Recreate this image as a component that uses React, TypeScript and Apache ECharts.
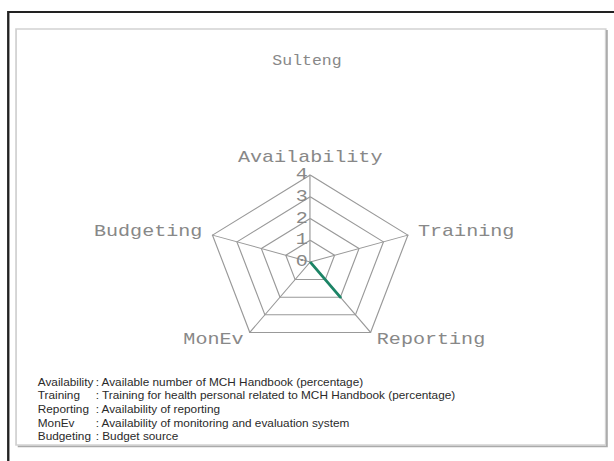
import React, { useEffect, useRef } from "react";
import * as echarts from "echarts";

const chartTitle = "Sulteng";
const indicatorNames = ["Availability", "Training", "Reporting", "MonEv", "Budgeting"];
const seriesValues = [0, 0, 2, 0, 0];
const axisMax = 4;
const tickLabels = ["0", "1", "2", "3", "4"];
const legendNames = ["Availability", "Training", "Reporting", "MonEv", "Budgeting"];
const legendDescriptions = [
  "Available number of MCH Handbook (percentage)",
  "Training for health personal related to MCH Handbook (percentage)",
  "Availability of reporting",
  "Availability of monitoring and evaluation system",
  "Budget source",
];

const W = 520;
const H = 461;
const SCALE_X = 614 / W;
const MONO = "'Liberation Mono', 'DejaVu Sans Mono', monospace";
const SANS = "'Liberation Sans', Arial, sans-serif";
const CENTER: [number, number] = [262.7, 262];
const RADIUS = 87;

export default function App() {
  const ref = useRef<HTMLDivElement>(null);
  useEffect(() => {
    document.body.style.margin = "0";
    if (!ref.current) return;
    const chart = echarts.init(ref.current, null, { renderer: "svg" });
    // ECharts radar runs counter-clockwise; the reference runs clockwise,
    // so keep the first axis on top and reverse the rest.
    const order = [0, ...indicatorNames.map((_, i) => i).slice(1).reverse()];
    const legendGraphics: any[] = [];
    legendNames.forEach((n, i) => {
      const y = 382 + i * 13.7;
      legendGraphics.push({
        type: "text",
        x: 32,
        y,
        style: { text: n, font: `10px ${SANS}`, fill: "#2a2a2a", textVerticalAlign: "middle" },
      });
      legendGraphics.push({
        type: "text",
        x: 81,
        y,
        style: { text: ": " + legendDescriptions[i], font: `10px ${SANS}`, fill: "#2a2a2a", textVerticalAlign: "middle" },
      });
    });
    chart.setOption({
      animation: false,
      backgroundColor: "#fff",
      title: {
        text: chartTitle,
        left: "center",
        top: 49,
        textStyle: { fontFamily: MONO, fontSize: 14, fontWeight: "normal", color: "#888" },
      },
      radar: {
        center: CENTER,
        radius: RADIUS,
        startAngle: 90,
        splitNumber: 4,
        shape: "polygon",
        nameGap: 9,
        indicator: order.map((i) => ({ name: indicatorNames[i], min: 0, max: axisMax })),
        axisName: { color: "#888", fontFamily: MONO, fontSize: 17 },
        axisLine: { lineStyle: { color: "#999", width: 1 } },
        splitLine: { lineStyle: { color: "#999", width: 1 } },
        splitArea: { show: false },
        axisTick: { show: false },
        axisLabel: { show: false },
      },
      polar: { center: CENTER, radius: RADIUS },
      angleAxis: { type: "value", min: 0, max: 360, startAngle: 90, show: false },
      radiusAxis: {
        type: "category",
        data: tickLabels,
        boundaryGap: false,
        axisLine: { show: false },
        axisTick: { show: false },
        splitLine: { show: false },
        axisLabel: { color: "#888", fontFamily: MONO, fontSize: 17, margin: 2, padding: [5, 0, 0, 0] },
      },
      series: [
        {
          type: "radar",
          symbol: "none",
          lineStyle: { color: "#1c8466", width: 2.5 },
          data: [{ value: order.map((i) => seriesValues[i]), name: chartTitle }],
        },
      ],
      graphic: [
        {
          type: "rect",
          shape: { x: 7, y: 12, width: 560, height: 480 },
          style: { fill: "none", stroke: "#222", lineWidth: 2 },
        },
        {
          type: "rect",
          shape: { x: 13.6, y: 29, width: 499.4, height: 416 },
          style: { fill: "none", stroke: "#d2d2d2", lineWidth: 1.5 },
        },
        {
          type: "polyline",
          shape: { points: [[514, 30], [514, 446.5], [15, 446.5]] },
          style: { fill: "none", stroke: "#aaa", lineWidth: 1.5 },
        },
        ...legendGraphics,
      ],
    });
    return () => chart.dispose();
  }, []);
  return (
    <div style={{ position: "fixed", left: 0, top: 0, width: 614, height: H, overflow: "hidden", background: "#fff" }}>
      <div
        ref={ref}
        style={{ width: W, height: H, overflow: "hidden", transform: `scaleX(${SCALE_X})`, transformOrigin: "0 0" }}
      />
    </div>
  );
}
